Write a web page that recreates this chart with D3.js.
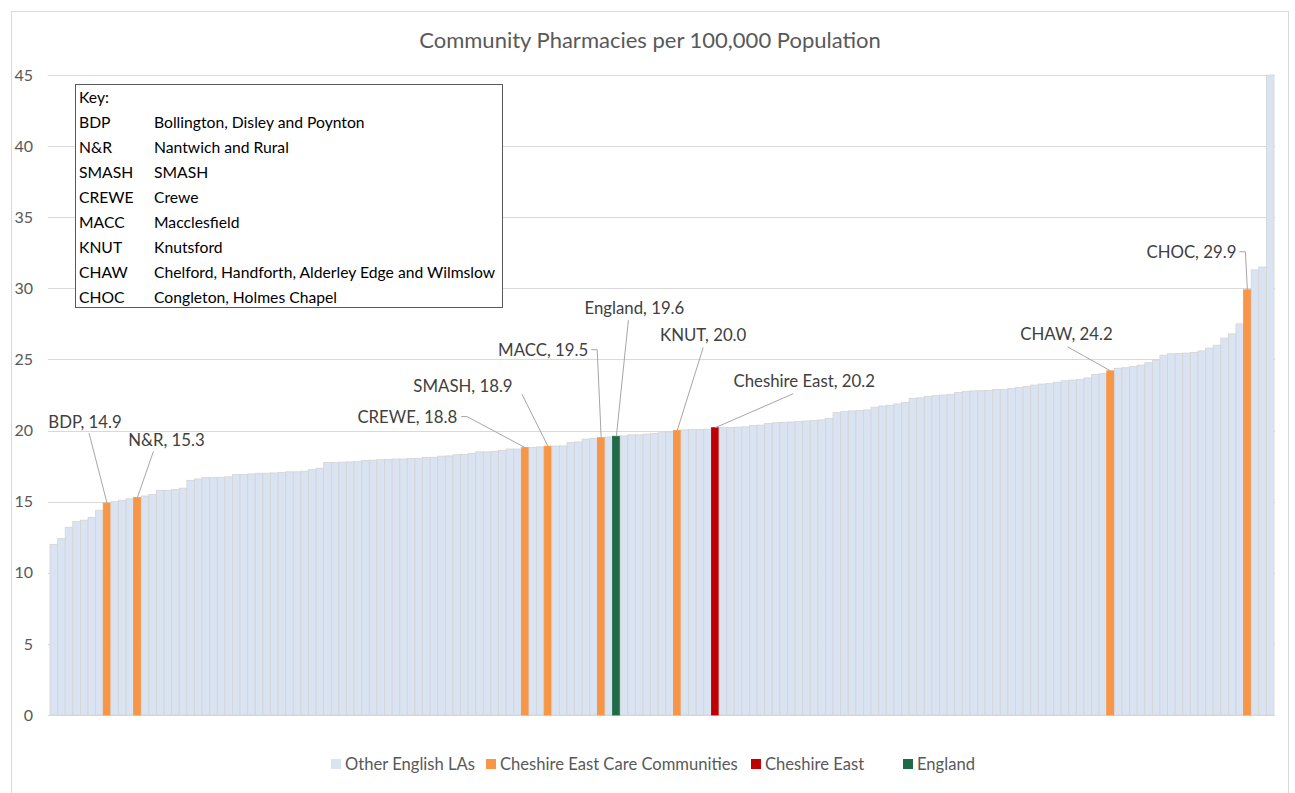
<!DOCTYPE html>
<html>
<head>
<meta charset="utf-8">
<script src="https://cdn.jsdelivr.net/npm/d3@7/dist/d3.min.js"></script>
<style>
  body { margin: 0; background: #fff; }
  svg { font-family: Lato, "Open Sans", sans-serif; }
</style>
</head>
<body>
<script>
/* global d3 */
(function() {
  'use strict';

  const title = 'Community Pharmacies per 100,000 Population';

  // other English LAs, sorted low to high
  const otherValues = [
    12.0, 12.4, 13.2, 13.6, 13.7, 13.9, 14.4, 15.0, 15.1, 15.2,
    15.4, 15.5, 15.8, 15.8, 15.85, 15.95, 16.5, 16.6, 16.7, 16.7,
    16.72, 16.75, 16.9, 16.92, 16.95, 17.0, 17.0, 17.02, 17.05, 17.1,
    17.1, 17.15, 17.25, 17.35, 17.75, 17.75, 17.78, 17.8, 17.82, 17.9,
    17.92, 17.95, 17.97, 18.0, 18.0, 18.03, 18.05, 18.1, 18.12, 18.2,
    18.22, 18.3, 18.33, 18.4, 18.5, 18.5, 18.55, 18.6, 18.7, 18.7,
    18.82, 18.85, 18.91, 18.92, 19.15, 19.2, 19.4, 19.45, 19.55, 19.62,
    19.7, 19.7, 19.75, 19.8, 19.85, 19.9, 20.05, 20.07, 20.08, 20.1,
    20.21, 20.22, 20.24, 20.26, 20.35, 20.38, 20.5, 20.55, 20.58, 20.6,
    20.63, 20.67, 20.7, 20.75, 20.86, 21.26, 21.33, 21.38, 21.4, 21.45,
    21.64, 21.73, 21.78, 21.87, 21.97, 22.27, 22.3, 22.39, 22.46, 22.5,
    22.55, 22.67, 22.76, 22.79, 22.8, 22.83, 22.88, 22.9, 22.97, 23.02,
    23.1, 23.2, 23.27, 23.3, 23.4, 23.5, 23.55, 23.6, 23.7, 23.94,
    24.0, 24.38, 24.42, 24.5, 24.6, 24.77, 24.96, 25.3, 25.4, 25.42,
    25.45, 25.5, 25.6, 25.8, 26.0, 26.5, 26.8, 27.5, 31.3, 31.5,
    45.0
  ];

  const careCodes = ['BDP', 'N&R', 'SMASH', 'CREWE', 'MACC', 'KNUT', 'CHAW', 'CHOC'];
  const careNames = ['Bollington, Disley and Poynton', 'Nantwich and Rural', 'SMASH', 'Crewe',
    'Macclesfield', 'Knutsford', 'Chelford, Handforth, Alderley Edge and Wilmslow', 'Congleton, Holmes Chapel'];
  const careValues = [14.9, 15.3, 18.9, 18.8, 19.5, 20.0, 24.2, 29.9];

  const cheshireEastValue = 20.2;
  const englandValue = 19.6;

  const yTicks = [0, 5, 10, 15, 20, 25, 30, 35, 40, 45];
  const legendLabels = ['Other English LAs', 'Cheshire East Care Communities', 'Cheshire East', 'England'];

  const colours = {
    other: '#dae3f1',
    care: '#f79646',
    ce: '#c00000',
    eng: '#1e6b47'
  };
  const groupKeys = ['other', 'care', 'ce', 'eng'];

  // label placement relative to bar top (pixels)
  const labelLayout = {
    'BDP': { dx: -22, dy: -81, anchor: 'middle', line: [[-18, -70]] },
    'N&R': { dx: 29, dy: -57, anchor: 'middle', line: [[16, -46]] },
    'CREWE': { dx: -68, dy: -31, anchor: 'end', line: [[-64, -31], [-58, -31]] },
    'SMASH': { dx: -85, dy: -60, anchor: 'middle', line: [[-26, -52]] },
    'MACC': { dx: -13, dy: -88, anchor: 'end', line: [[-10, -88], [-4, -88]] },
    'England': { dx: 18, dy: -128, anchor: 'middle', line: [[12, -116]] },
    'KNUT': { dx: 26, dy: -95, anchor: 'middle', line: [[26, -83]] },
    'Cheshire East': { dx: 89, dy: -47, anchor: 'middle', line: [[78, -34]] },
    'CHAW': { dx: -44, dy: -37, anchor: 'middle', line: [[-43, -24]] },
    'CHOC': { dx: -11, dy: -38, anchor: 'end', line: [[-8, -38], [-2, -38]] }
  };

  // build one sorted list of bars
  let bars = otherValues.map(v => ({ name: '', value: v, group: 'other' }));
  careCodes.forEach((c, i) => bars.push({ name: c, value: careValues[i], group: 'care' }));
  bars.push({ name: 'Cheshire East', value: cheshireEastValue, group: 'ce' });
  bars.push({ name: 'England', value: englandValue, group: 'eng' });
  bars.sort((a, b) => a.value - b.value);
  bars.forEach((d, i) => { d.id = i; });

  const w = 1295;
  const h = 793;
  const left = 50;
  const right = 1274;
  const top = 75;
  const bottom = 715;

  const svg = d3.select('body').append('svg')
    .attr('width', w)
    .attr('height', h);

  svg.append('rect')
    .attr('x', 11.5).attr('y', 11.5)
    .attr('width', 1277).attr('height', 790)
    .attr('fill', '#fff')
    .attr('stroke', '#d9d9d9');

  const xScale = d3.scaleBand()
    .domain(bars.map(d => d.id))
    .range([left, right])
    .padding(0);

  const yScale = d3.scaleLinear()
    .domain([0, 45])
    .range([bottom, top]);

  // gridlines
  svg.append('g')
    .selectAll('line')
    .data(yTicks)
    .enter()
    .append('line')
    .attr('x1', left - 2)
    .attr('x2', right + 1)
    .attr('y1', d => Math.round(yScale(d)) + 0.5)
    .attr('y2', d => Math.round(yScale(d)) + 0.5)
    .attr('stroke', '#d9d9d9')
    .attr('stroke-width', 1);

  // y axis labels
  const yAxis = d3.axisLeft(yScale).tickValues(yTicks).tickSize(0).tickPadding(0);
  const yg = svg.append('g')
    .attr('transform', 'translate(' + 33 + ',0)')
    .call(yAxis);
  yg.select('.domain').remove();
  yg.selectAll('text')
    .attr('fill', '#595959')
    .style('font-size', '16px')
    .style('font-family', 'Lato, sans-serif');

  // bars
  svg.append('g')
    .selectAll('rect')
    .data(bars)
    .enter()
    .append('rect')
    .attr('x', d => xScale(d.id))
    .attr('y', d => yScale(d.value))
    .attr('width', xScale.bandwidth())
    .attr('height', d => yScale(0) - yScale(d.value))
    .attr('fill', d => colours[d.group])
    .attr('stroke', d => d.group === 'other' ? '#d4d4d4' : colours[d.group])
    .attr('stroke-width', 0.8);

  // data labels with leader lines
  const labelled = bars.filter(d => d.name !== '');
  const lab = svg.append('g');
  labelled.forEach(d => {
    const L = labelLayout[d.name];
    const bx = xScale(d.id) + xScale.bandwidth() / 2;
    const by = yScale(d.value);
    const pts = L.line.map(p => [bx + p[0], by + p[1]]).concat([[bx, by]]);
    lab.append('path')
      .attr('d', d3.line()(pts))
      .attr('fill', 'none')
      .attr('stroke', '#a6a6a6')
      .attr('stroke-width', 1);
    lab.append('text')
      .attr('x', bx + L.dx)
      .attr('y', by + L.dy)
      .attr('dy', '0.35em')
      .attr('text-anchor', L.anchor)
      .attr('fill', '#404040')
      .style('font-size', '16.8px')
      .text(d.name + ', ' + d3.format('.1f')(d.value));
  });

  // title
  svg.append('text')
    .attr('x', 650)
    .attr('y', 40)
    .attr('dy', '0.35em')
    .attr('text-anchor', 'middle')
    .attr('fill', '#595959')
    .style('font-size', '22px')
    .text(title);

  // key box
  const keyOrder = ['BDP', 'N&R', 'SMASH', 'CREWE', 'MACC', 'KNUT', 'CHAW', 'CHOC'];
  const key = svg.append('g');
  key.append('rect')
    .attr('x', 75.5).attr('y', 84.5)
    .attr('width', 427).attr('height', 223)
    .attr('fill', '#fff')
    .attr('stroke', '#595959')
    .attr('stroke-width', 1);
  key.append('text')
    .attr('x', 79).attr('y', 98)
    .attr('dy', '0.35em')
    .attr('fill', '#000')
    .style('font-size', '15.7px')
    .text('Key:');
  keyOrder.forEach((c, i) => {
    const j = careCodes.indexOf(c);
    const yy = 123 + i * 24.9;
    key.append('text')
      .attr('x', 79).attr('y', yy).attr('dy', '0.35em')
      .attr('fill', '#000').style('font-size', '15.7px')
      .text(c);
    key.append('text')
      .attr('x', 154).attr('y', yy).attr('dy', '0.35em')
      .attr('fill', '#000').style('font-size', '15.7px')
      .text(careNames[j]);
  });

  // legend
  const legendX = [331, 486, 751, 903];
  const legend = svg.append('g');
  legendLabels.forEach((t, i) => {
    legend.append('rect')
      .attr('x', legendX[i]).attr('y', 759)
      .attr('width', 10).attr('height', 10)
      .attr('fill', colours[groupKeys[i]]);
    legend.append('text')
      .attr('x', legendX[i] + 14).attr('y', 764)
      .attr('dy', '0.35em')
      .attr('fill', '#595959')
      .style('font-size', '16.6px')
      .text(t);
  });
}());
</script>
</body>
</html>
